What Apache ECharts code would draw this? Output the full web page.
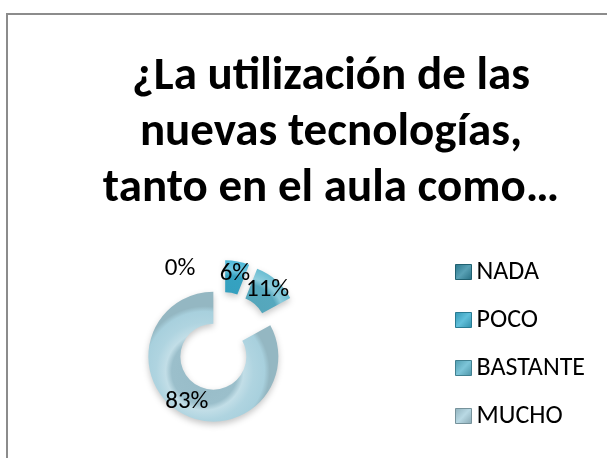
<!DOCTYPE html>
<html>
<head>
<meta charset="utf-8">
<script src="https://cdn.jsdelivr.net/npm/echarts@6/dist/echarts.min.js"></script>
<style>
  html, body { margin: 0; padding: 0; background: #ffffff; }
  #chart { width: 607px; height: 458px; }
</style>
</head>
<body>
<div id="chart"></div>
<script>
// Survey answers and their share of responses (%)
const categories = ['NADA', 'POCO', 'BASTANTE', 'MUCHO'];
const percentages = [0, 6, 11, 83];
const titleText = '¿La utilización de las\nnuevas tecnologías,\ntanto en el aula como…';

// Base colour of each answer
const baseColors = ['#2f8aa2', '#3ab0d2', '#5db7ce', '#a8d0dd'];

const FONT = 'Carlito, Lato, sans-serif';
const CENTER = [222, 342];
const R_IN = 33, R_OUT = 65, EXPLODE = 17;

function shade(hex, f) {
  const n = parseInt(hex.slice(1), 16);
  let r = (n >> 16) & 255, g = (n >> 8) & 255, b = n & 255;
  const mix = f >= 0 ? 255 : 0, t = Math.abs(f);
  r = Math.round(r + (mix - r) * t);
  g = Math.round(g + (mix - g) * t);
  b = Math.round(b + (mix - b) * t);
  return 'rgb(' + r + ',' + g + ',' + b + ')';
}

// Bevelled ring look: a radial gradient centred on each exploded slice
const total = percentages.reduce((a, b) => a + b, 0);
let acc = 0;
const pieData = categories.map((name, i) => {
  const mid = (acc + percentages[i] / 2) / total * Math.PI * 2;
  acc += percentages[i];
  const x = CENTER[0] + EXPLODE * Math.sin(mid);
  const y = CENTER[1] - EXPLODE * Math.cos(mid);
  const c = baseColors[i];
  return {
    name: name,
    value: percentages[i],
    selected: true,
    itemStyle: {
      color: {
        type: 'radial', x: x, y: y, r: R_OUT, global: true,
        colorStops: [
          { offset: 0, color: shade(c, -0.1) },
          { offset: R_IN / R_OUT, color: shade(c, -0.08) },
          { offset: 0.6, color: shade(c, 0.3) },
          { offset: 0.75, color: shade(c, 0.08) },
          { offset: 0.92, color: c },
          { offset: 1, color: shade(c, -0.12) }
        ]
      }
    }
  };
});

// Legend swatches with a light pyramid-like sheen
function swatch(c) {
  return {
    type: 'linear', x: 0, y: 0, x2: 1, y2: 1,
    colorStops: [
      { offset: 0, color: shade(c, -0.15) },
      { offset: 0.5, color: shade(c, 0.2) },
      { offset: 1, color: shade(c, -0.2) }
    ]
  };
}

const chart = echarts.init(document.getElementById('chart'), null, { renderer: 'canvas' });
chart.setOption({
  animation: false,
  backgroundColor: '#ffffff',
  title: {
    text: titleText,
    left: 326,
    top: 44,
    textAlign: 'center',
    textStyle: {
      fontFamily: FONT,
      fontWeight: 'bold',
      fontSize: 47,
      lineHeight: 56,
      color: '#000000'
    }
  },
  legend: {
    orient: 'vertical',
    left: 450,
    top: 254,
    itemWidth: 16,
    itemHeight: 15,
    itemGap: 22,
    icon: 'rect',
    selectedMode: false,
    textStyle: { fontFamily: FONT, fontSize: 26, lineHeight: 24, color: '#000000' },
    data: categories.map((name, i) => ({
      name: name,
      itemStyle: { color: swatch(baseColors[i]), borderColor: shade(baseColors[i], -0.3), borderWidth: 1 }
    }))
  },
  graphic: [{
    type: 'polyline',
    shape: { points: [[7, 458], [7, 14], [607, 14]] },
    style: { stroke: '#8c8c8c', lineWidth: 2, fill: null },
    silent: true
  }],
  series: [{
    type: 'pie',
    center: CENTER,
    radius: [R_IN, R_OUT],
    startAngle: 90,
    clockwise: true,
    selectedMode: 'multiple',
    selectedOffset: EXPLODE,
    avoidLabelOverlap: false,
    silent: true,
    itemStyle: {
      borderWidth: 0,
      shadowBlur: 6,
      shadowOffsetY: 3,
      shadowColor: 'rgba(0,0,0,0.22)'
    },
    label: {
      show: true,
      position: 'inside',
      fontFamily: FONT,
      fontSize: 25,
      color: '#000000',
      formatter: p => Math.round(p.percent) + '%'
    },
    // keep every label visible; the zero label sits to the left of its neighbours
    labelLayout: p => p.dataIndex === 0
      ? { hideOverlap: false, dx: -42, dy: -4 }
      : { hideOverlap: false },
    labelLine: { show: false },
    emphasis: { disabled: true },
    data: pieData
  }]
});
</script>
</body>
</html>
